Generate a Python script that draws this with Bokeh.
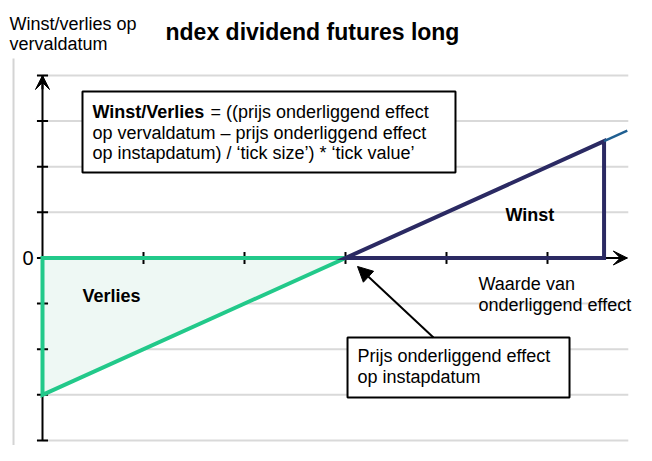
from bokeh.plotting import figure
from bokeh.models import Range1d, Arrow, VeeHead, NormalHead
from bokeh.core.properties import value
from bokeh.embed import file_html
from bokeh.resources import INLINE

# ---- data (diagram units) ----
y_ticks = [-4, -3, -2, -1, 0, 1, 2, 3, 4]
grid_y = [-4, -3, -2, -1, 1, 2, 3, 4]
x_ticks = [1, 2, 3, 4, 5]
axis_x_end = 5.79
axis_y_end = 4.0
axis_y_start = -4.0
entry_price = 3.0
exit_price = 5.56
loss_x = [0.0, 3.0, 0.0]
loss_y = [0.0, 0.0, -3.0]
profit_x = [3.0, 5.56, 5.56]
profit_y = [0.0, 2.56, 0.0]
ext_x = [5.56, 5.79]
ext_y = [2.56, 2.79]

FONT = value("Liberation Sans")
GREEN = "#22c98a"
NAVY = "#2b2a63"

p = figure(width=636, height=445, x_range=Range1d(-0.41584, 5.88119),
           y_range=Range1d(-4.1096, 5.6438), output_backend="svg",
           toolbar_location=None, min_border=0, x_axis_type=None, y_axis_type=None)
p.grid.visible = False
p.outline_line_color = None
p.background_fill_color = "white"
p.border_fill_color = "white"

# grid lines
p.segment(x0=[0.0] * len(grid_y), y0=grid_y, x1=[5.8] * len(grid_y), y1=grid_y,
          line_color="#d9d9d9", line_width=2)
# outer grey border line on the left
p.segment(x0=[-0.287], y0=[4.373], x1=[-0.287], y1=[-4.2], line_color="#d4d4d4", line_width=2)

# loss fill
p.patch(loss_x, loss_y, fill_color="#eef8f4", line_color=None)

# axes
p.segment(x0=[0.0, 0.0], y0=[axis_y_start, 0.0], x1=[0.0, axis_x_end], y1=[axis_y_end, 0.0],
          line_color="black", line_width=2)
# tick marks
p.segment(x0=[-0.055] * len(y_ticks), y0=y_ticks, x1=[0.055] * len(y_ticks), y1=y_ticks,
          line_color="black", line_width=2)
p.segment(x0=x_ticks, y0=[-0.13] * len(x_ticks), x1=x_ticks, y1=[0.13] * len(x_ticks),
          line_color="black", line_width=2)

# payoff outlines
p.patch(loss_x, loss_y, fill_color=None, line_color=GREEN, line_width=4, line_join="miter")
p.patch(profit_x, profit_y, fill_color=None, line_color=NAVY, line_width=4, line_join="miter")
p.line(ext_x, ext_y, line_color="#1f5f91", line_width=2.5)

# axis arrow heads
p.add_layout(Arrow(end=VeeHead(size=14, fill_color="black", line_color="black"),
                   x_start=0.0, y_start=3.7, x_end=0.0, y_end=axis_y_end,
                   line_color="black", line_width=2))
p.add_layout(Arrow(end=VeeHead(size=14, fill_color="black", line_color="black"),
                   x_start=5.62, y_start=0.0, x_end=axis_x_end, y_end=0.0,
                   line_color="black", line_width=2))

# boxes
p.quad(left=[0.396], right=[4.089], top=[3.649], bottom=[1.874],
       fill_color="white", line_color="black", line_width=2)
p.quad(left=[3.020], right=[5.218], top=[-1.742], bottom=[-3.058],
       fill_color="white", line_color="black", line_width=2)

# pointer arrow
p.add_layout(Arrow(end=NormalHead(size=15, fill_color="black", line_color="black"),
                   x_start=3.871, y_start=-1.742, x_end=3.119, y_end=-0.186,
                   line_color="black", line_width=2))

S18 = 0.1315  # baseline correction for 18px text (data units)
S23 = 0.1666  # baseline correction for 23px text

def txt(x, y, s, size="18px", style="normal", align="left", baseline="alphabetic", xoff=0, dy=S18):
    p.text(x=[x], y=[y + dy], text=[s], text_font=FONT, text_font_size=size,
           text_font_style=style, text_align=align, text_baseline=baseline,
           text_color="black", x_offset=xoff)

# title and axis caption
txt(1.218, 4.789, "ndex dividend futures long", size="23px", style="bold", dy=S23)
txt(-0.327, 5.008, "Winst/verlies op")
txt(-0.327, 4.548, "vervaldatum")

# formula box text
txt(0.495, 3.058, "Winst/Verlies", style="bold")
txt(0.495, 3.058, "= ((prijs onderliggend effect", xoff=118)
txt(0.495, 2.619, "op vervaldatum \u2013 prijs onderliggend effect")
txt(0.495, 2.159, "op instapdatum) / \u2018tick size\u2019) * \u2018tick value\u2019")

# other labels
txt(-0.089, 0.0, "0", size="20px", align="right", baseline="middle", dy=0.0)
txt(0.396, -0.975, "Verlies", style="bold")
txt(4.584, 0.80, "Winst", style="bold")
txt(4.317, -0.712, "Waarde van")
txt(4.317, -1.151, "onderliggend effect")
txt(3.119, -2.290, "Prijs onderliggend effect")
txt(3.119, -2.729, "op instapdatum")

open("out.html", "w").write(file_html(p, INLINE))
